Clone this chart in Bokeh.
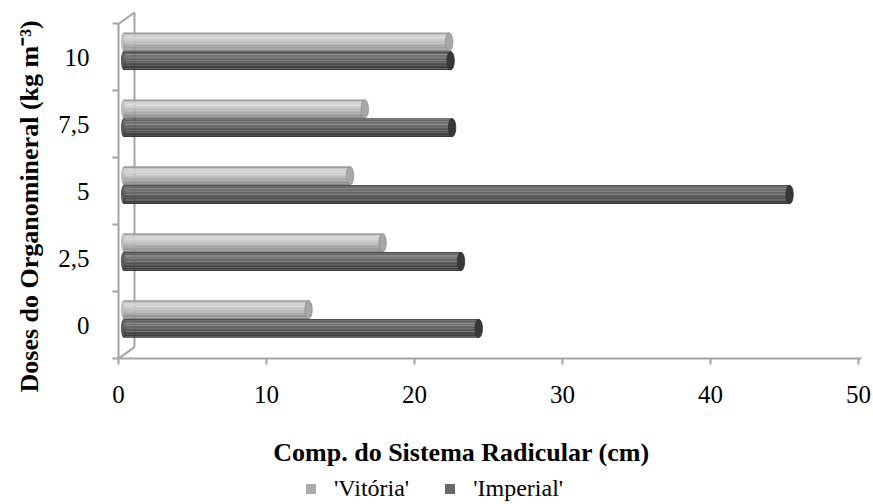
from bokeh.plotting import figure
from bokeh.layouts import column
from bokeh.models import (ColumnDataSource, FixedTicker, Range1d, Legend, LegendItem, Title)
from bokeh.core.properties import value
from bokeh.embed import file_html
from bokeh.resources import INLINE

# Organomineral doses (kg m-3) and root length (cm) per cultivar
doses = ["0", "2,5", "5", "7,5", "10"]
vitoria = [12.5, 17.5, 15.3, 16.3, 22.0]
imperial = [24.0, 22.8, 45.0, 22.2, 22.1]
x_ticks = [0, 10, 20, 30, 40, 50]

FONT = "Liberation Serif"
pos = list(range(len(doses)))

p = figure(frame_width=743, frame_height=348, output_backend="svg", toolbar_location=None,
           x_range=Range1d(0, 50.2), y_range=Range1d(-0.5, 4.70),
           min_border_left=117, min_border_right=13, min_border_top=10,
           min_border_bottom=60)
p.outline_line_color = None
p.grid.visible = False
p.background_fill_color = "white"

# depth offset of the 3D box (data units)
DX, DY = 1.08, 0.17
wall = "#a3a3a3"
p.line([DX, DX], [-0.5 + DY, 4.5 + DY], line_color=wall, line_width=2)
p.line([0, DX], [4.5, 4.5 + DY], line_color=wall, line_width=2)
p.line([0, DX], [-0.5, -0.5 + DY], line_color=wall, line_width=2)

X0 = 0.34      # bar start (projected depth)
H = 0.28       # cylinder thickness
N = 12         # shading bands per cylinder

light_bands = ["#9c9c9c", "#c4c4c4", "#d2d2d2", "#d4d4d4", "#cdcdcd", "#c4c4c4",
               "#bbbbbb", "#b2b2b2", "#a8a8a8", "#9e9e9e", "#949494", "#8a8a8a"]
dark_bands = ["#4e4e4e", "#646464", "#707070", "#727272", "#6c6c6c", "#646464",
              "#5c5c5c", "#545454", "#4c4c4c", "#444444", "#3c3c3c", "#363636"]


def cylinder(values, yshift, bands, body, cap, cap_line):
    ys = [c + yshift for c in pos]
    ends = [X0 + v for v in values]
    src = ColumnDataSource(dict(y=ys, end=ends, start=[X0] * len(ys)))
    p.ellipse(x="start", y="y", width=0.35, height=H, source=src,
              fill_color=body, line_color=None)
    for k, col in enumerate(bands):
        yk = [y + H / 2 - (k + 0.5) * H / N for y in ys]
        bsrc = ColumnDataSource(dict(y=yk, left=[X0] * len(ys), right=ends))
        p.hbar(y="y", left="left", right="right", height=H / N * 1.08, source=bsrc,
               fill_color=col, line_color=None)
    p.ellipse(x="end", y="y", width=0.5, height=H * 0.98, source=src,
              fill_color=cap, line_color=cap_line, line_width=0.8)


cylinder(vitoria, 0.23, light_bands, "#bdbdbd", "#a8a8a8", "#8e8e8e")
cylinder(imperial, -0.05, dark_bands, "#5a5a5a", "#383838", "#2e2e2e")

# x axis
xa = p.xaxis[0]
xa.ticker = FixedTicker(ticks=x_ticks)
xa.axis_line_color = wall
xa.axis_line_width = 2
xa.major_tick_line_color = wall
xa.major_tick_line_width = 2
xa.major_tick_out = 6
xa.major_tick_in = 0
xa.minor_tick_line_color = None
xa.major_label_text_font = FONT
xa.major_label_text_font_size = "25px"
xa.major_label_text_color = "black"
xa.major_label_standoff = 21

# y axis: labels at category centres, ticks at category boundaries
ya = p.yaxis[0]
ya.ticker = FixedTicker(ticks=pos, minor_ticks=[c - 0.5 for c in pos] + [pos[-1] + 0.5])
ya.major_label_overrides = {c: d for c, d in zip(pos, doses)}
ya.bounds = (-0.5, 4.5)
ya.axis_line_color = wall
ya.axis_line_width = 2
ya.major_tick_line_color = None
ya.major_tick_out = 0
ya.major_tick_in = 0
ya.minor_tick_line_color = wall
ya.minor_tick_line_width = 2
ya.minor_tick_out = 6
ya.minor_tick_in = 0
ya.major_label_text_font = FONT
ya.major_label_text_font_size = "25px"
ya.major_label_text_color = "black"
ya.major_label_standoff = 23

yt = Title(text="Doses do Organomineral (kg m\u207b\u00b3)", align="left", offset=-34,
           text_font=FONT, text_font_size="26px", text_font_style="bold",
           text_color="black", standoff=24)
p.add_layout(yt, "left")

# strip under the chart (its frame lines up with the chart frame): x title and legend
p2 = figure(width=873, height=86, output_backend="svg", toolbar_location=None,
            x_range=Range1d(117, 860), y_range=Range1d(0, 86),
            x_axis_location=None, y_axis_location=None,
            min_border=0, min_border_left=0, min_border_right=0,
            min_border_top=0, min_border_bottom=0)
p2.outline_line_color = None
p2.grid.visible = False
p2.text(x=[272], y=[52], text=["Comp. do Sistema Radicular (cm)"],
        text_font=value(FONT), text_font_size="26px", text_font_style="bold",
        text_color="black", text_baseline="middle", text_align="left")

# swatch renderers (their single point lies outside the strip's view)
r1 = p2.scatter(x=[-1000], y=[-1000], marker="square", size=10,
                fill_color="#ababab", line_color=None)
r2 = p2.scatter(x=[-1000], y=[-1000], marker="square", size=10,
                fill_color="#686868", line_color=None)
legend = Legend(items=[LegendItem(label="'Vit\u00f3ria'", renderers=[r1]),
                       LegendItem(label="'Imperial'", renderers=[r2])],
                orientation="horizontal", location=(180, 2),
                label_text_font=FONT, label_text_font_size="24px",
                label_text_color="black", border_line_color=None,
                background_fill_alpha=0, glyph_width=25, glyph_height=25,
                label_height=20, spacing=28, padding=0, margin=0, label_standoff=11)
p2.add_layout(legend, "center")

open("out.html", "w").write(file_html(column(p, p2, spacing=0), INLINE))
